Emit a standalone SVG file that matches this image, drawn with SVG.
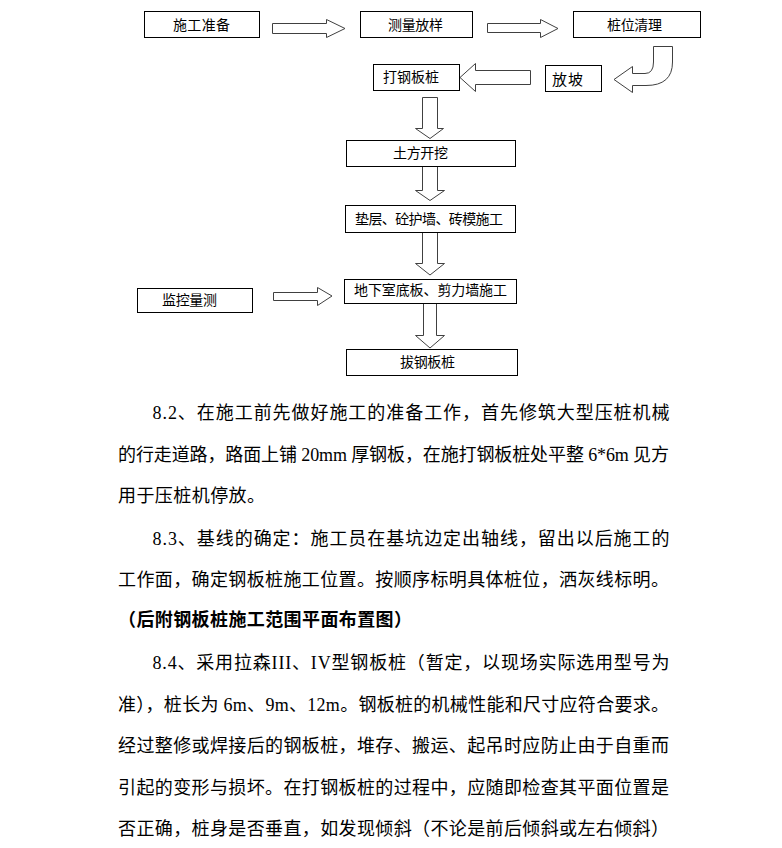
<svg xmlns="http://www.w3.org/2000/svg" width="782" height="848" viewBox="0 0 782 848">
<style>
.box{fill:#fff;stroke:#000;stroke-width:1}
.lbl{font-family:"Noto Sans CJK SC","Liberation Sans",sans-serif;font-size:14px;fill:#000}
.arr{fill:#fff;stroke:#404040;stroke-width:1;stroke-linejoin:miter}
.p{font-family:"Liberation Serif","Noto Sans CJK SC",serif;font-size:18px;fill:#000}
.b{font-weight:bold}
</style>
<rect width="782" height="848" fill="#fff"/>
<g id="connectors">
<polygon class="arr" points="272.5,23.5 326.5,23.5 326.5,19.5 345,28.5 326.5,37.5 326.5,33.5 272.5,33.5"/>
<polygon class="arr" points="487.5,23.5 540.5,23.5 540.5,19.5 558,28.5 540.5,37.5 540.5,32.5 487.5,32.5"/>
<path class="arr" d="M653.5,46.5 L672.5,46.5 L672.5,62 Q672.5,85.5 646,85.5 L632.5,85.5 L632.5,92.5 L614,79.5 L632.5,66.5 L632.5,73.5 L645,73.5 Q653.5,73.5 653.5,62 Z"/>
<polygon class="arr" points="530.5,70.5 475.5,70.5 475.5,63.5 460,77.5 475.5,91.5 475.5,84.5 530.5,84.5"/>
<polygon class="arr" points="422.5,97.5 437.5,97.5 437.5,128.5 443.5,128.5 430,138.5 415.5,128.5 422.5,128.5"/>
<polygon class="arr" points="422.5,166.5 437.5,166.5 437.5,190.5 444.5,190.5 430,200.5 415.5,190.5 422.5,190.5"/>
<polygon class="arr" points="422.5,232.5 437.5,232.5 437.5,263.5 444.5,263.5 430,275 415.5,263.5 422.5,263.5"/>
<polygon class="arr" points="423.5,303.5 436.5,303.5 436.5,335.5 444.5,335.5 430,348 415.5,335.5 423.5,335.5"/>
<polygon class="arr" points="273.5,292.5 317.5,292.5 317.5,287.5 332,296 317.5,305.5 317.5,300.5 273.5,300.5"/>
</g>
<g id="n-shigong-zhunbei"><rect class="box" x="144.5" y="11.5" width="115" height="26"/><text class="lbl" x="173" y="30" textLength="57">施工准备</text></g>
<g id="n-celiang-fangyang"><rect class="box" x="360.5" y="11.5" width="112" height="26"/><text class="lbl" x="388" y="30" textLength="55">测量放样</text></g>
<g id="n-zhuangwei-qingli"><rect class="box" x="573.5" y="11.5" width="127" height="26"/><text class="lbl" x="607" y="30" textLength="55">桩位清理</text></g>
<g id="n-fangpo"><rect class="box" x="545.5" y="65.5" width="56" height="26"/><text class="lbl" x="552" y="85" style="font-size:15px" textLength="31">放坡</text></g>
<g id="n-da-gangbanzhuang"><rect class="box" x="373.5" y="64.5" width="86" height="26"/><text class="lbl" x="383" y="82" textLength="56">打钢板桩</text></g>
<g id="n-tufang-kaiwa"><rect class="box" x="346.5" y="140.5" width="169" height="26"/><text class="lbl" x="393" y="158" textLength="55">土方开挖</text></g>
<g id="n-dianceng"><rect class="box" x="345.5" y="205.5" width="170" height="27"/><text class="lbl" x="355" y="224" textLength="148">垫层、砼护墙、砖模施工</text></g>
<g id="n-dixiashi"><rect class="box" x="344.5" y="279.5" width="172" height="24"/><text class="lbl" x="354" y="295" textLength="153">地下室底板、剪力墙施工</text></g>
<g id="n-ba-gangbanzhuang"><rect class="box" x="346.5" y="349.5" width="171" height="26"/><text class="lbl" x="400" y="367" textLength="55">拔钢板桩</text></g>
<g id="n-jiankong-liangce"><rect class="box" x="137.5" y="288.5" width="115" height="24"/><text class="lbl" x="162" y="305" textLength="55">监控量测</text></g>
<g id="body-text">
<text class="p" x="152.5" y="419" textLength="517" lengthAdjust="spacing">8.2、在施工前先做好施工的准备工作，首先修筑大型压桩机械</text>
<text class="p" x="118" y="460.5" textLength="551" lengthAdjust="spacing">的行走道路，路面上铺 20mm 厚钢板，在施打钢板桩处平整 6*6m 见方</text>
<text class="p" x="118" y="502" textLength="147" lengthAdjust="spacing">用于压桩机停放。</text>
<text class="p" x="152.5" y="545" textLength="517" lengthAdjust="spacing">8.3、基线的确定：施工员在基坑边定出轴线，留出以后施工的</text>
<text class="p" x="118" y="585.5" textLength="551" lengthAdjust="spacing">工作面，确定钢板桩施工位置。按顺序标明具体桩位，洒灰线标明。</text>
<text class="p b" x="118" y="626" textLength="294" lengthAdjust="spacing">（后附钢板桩施工范围平面布置图）</text>
<text class="p" x="152.5" y="669" textLength="517" lengthAdjust="spacing">8.4、采用拉森III、IV型钢板桩（暂定，以现场实际选用型号为</text>
<text class="p" x="118" y="710.5" textLength="551" lengthAdjust="spacing">准），桩长为 6m、9m、12m。钢板桩的机械性能和尺寸应符合要求。</text>
<text class="p" x="118" y="752" textLength="551" lengthAdjust="spacing">经过整修或焊接后的钢板桩，堆存、搬运、起吊时应防止由于自重而</text>
<text class="p" x="118" y="793.5" textLength="551" lengthAdjust="spacing">引起的变形与损坏。在打钢板桩的过程中，应随即检查其平面位置是</text>
<text class="p" x="118" y="835" textLength="551" lengthAdjust="spacing">否正确，桩身是否垂直，如发现倾斜（不论是前后倾斜或左右倾斜）</text>
</g>
</svg>
